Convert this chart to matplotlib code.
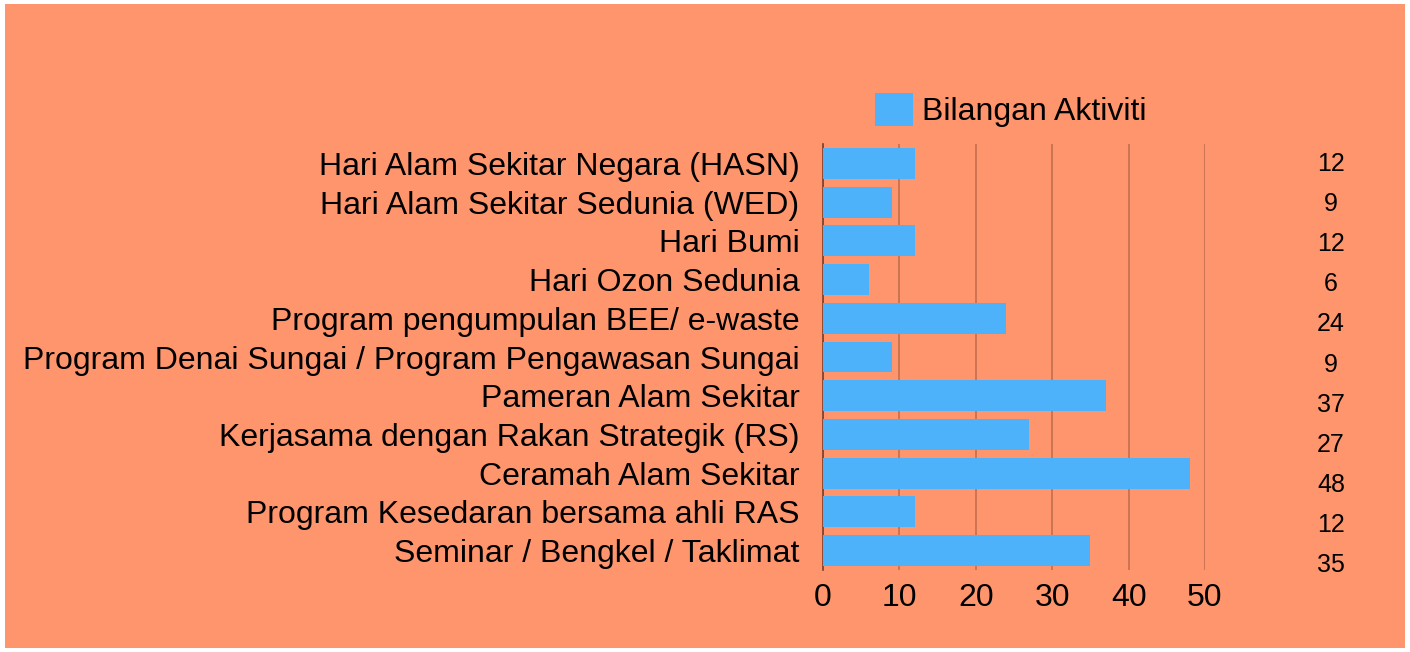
import matplotlib
matplotlib.use("Agg")
import matplotlib.pyplot as plt
from matplotlib.patches import Rectangle, Patch

categories = [
    "Hari Alam Sekitar Negara (HASN)",
    "Hari Alam Sekitar Sedunia (WED)",
    "Hari Bumi",
    "Hari Ozon Sedunia",
    "Program pengumpulan BEE/ e-waste",
    "Program Denai Sungai / Program Pengawasan Sungai",
    "Pameran Alam Sekitar",
    "Kerjasama dengan Rakan Strategik (RS)",
    "Ceramah Alam Sekitar",
    "Program Kesedaran bersama ahli RAS",
    "Seminar / Bengkel / Taklimat",
]
values = [12, 9, 12, 6, 24, 9, 37, 27, 48, 12, 35]
xticks = [0, 10, 20, 30, 40, 50]
series_name = "Bilangan Aktiviti"

BG = "#FF956D"
BAR = "#4DB2FA"
GRID = "#C46F4E"

plt.rcParams['font.family'] = ['Liberation Sans', 'DejaVu Sans']

W, H = 1410, 652
fig = plt.figure(figsize=(W / 100, H / 100), dpi=100, facecolor="white")
fig.patches.append(Rectangle((5 / W, 4 / H), 1400 / W, 644 / H, transform=fig.transFigure,
                             facecolor=BG, edgecolor="none", zorder=-10))

left, right = 823 / W, 1205 / W
top, bottom = 144 / H, 570 / H
ax = fig.add_axes([left, 1 - bottom, right - left, bottom - top])
ax.set_facecolor("none")

n = len(categories)
y = list(range(n))
ax.barh(y, values, height=0.8, color=BAR, zorder=3)
ax.set_ylim(n - 0.5, -0.5)
ax.set_xlim(0, 50)
ax.set_yticks(y)
ax.set_yticklabels(categories, fontsize=23)
ax.set_xticks(xticks)
ax.set_xticklabels([str(t) for t in xticks], fontsize=23)
ax.tick_params(axis='y', length=0, pad=17)
ax.tick_params(axis='x', length=0, pad=9)
for s in ["top", "right", "bottom"]:
    ax.spines[s].set_visible(False)
ax.spines["left"].set_color("#7A3E2A")
ax.spines["left"].set_linewidth(1.2)
ax.spines["left"].set_zorder(2)
ax.grid(axis='x', color=GRID, linewidth=1.2, zorder=1)
ax.set_axisbelow(True)

# value labels column on the right
top2, bottom2 = 144 / H, 585 / H
ax2 = fig.add_axes([1300 / W, 1 - bottom2, 62 / W, bottom2 - top2])
ax2.set_xlim(0, 1)
ax2.set_ylim(n - 0.5, -0.5)
ax2.axis("off")
for i, v in enumerate(values):
    ax2.text(0.5, i, str(v), ha="center", va="center", fontsize=18, color="black")

handle = Patch(facecolor=BAR, edgecolor="none")
fig.legend([handle], [series_name], loc="center left",
           bbox_to_anchor=(875 / W, 1 - 110 / H), frameon=False, fontsize=23,
           handlelength=1.19, handleheight=1.19, handletextpad=0.28, borderpad=0,
           borderaxespad=0)

fig.savefig("out.png", dpi=100, facecolor="white")
